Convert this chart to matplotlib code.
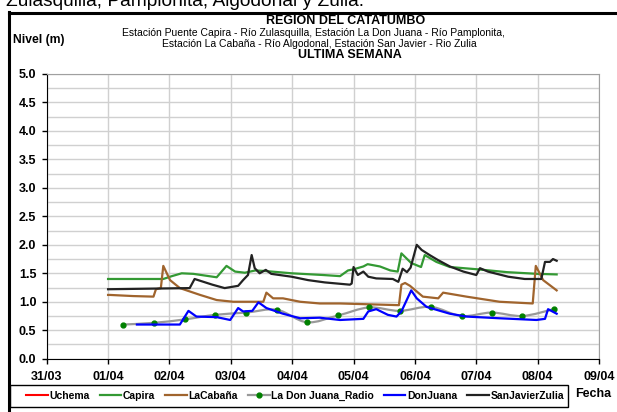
import matplotlib
matplotlib.use('Agg')
import numpy as np
from matplotlib import pyplot as plt
from matplotlib.lines import Line2D
from matplotlib.path import Path
from matplotlib.patches import PathPatch, Rectangle

plt.rcParams['font.family'] = ['Liberation Sans', 'DejaVu Sans']

# time axis: days after 31/03 00:00
date_labels = ["31/03", "01/04", "02/04", "03/04", "04/04", "05/04",
               "06/04", "07/04", "08/04", "09/04"]

capira_t = [1.00, 1.90, 2.04, 2.20, 2.39, 2.77, 2.93, 3.07, 3.23, 3.40, 3.56,
            3.99, 4.50, 4.78, 4.91, 5.00, 5.16, 5.23, 5.43, 5.60, 5.72, 5.78,
            5.94, 6.10, 6.16, 6.35, 6.57, 7.02, 7.50, 8.00, 8.31]
capira_v = [1.40, 1.40, 1.45, 1.50, 1.49, 1.43, 1.63, 1.53, 1.51, 1.55, 1.54,
            1.50, 1.47, 1.45, 1.55, 1.57, 1.62, 1.66, 1.62, 1.55, 1.53, 1.85,
            1.68, 1.61, 1.82, 1.70, 1.61, 1.57, 1.52, 1.49, 1.48]

cabana_t = [1.00, 1.03, 1.41, 1.74, 1.78, 1.86, 1.90, 2.01, 2.17, 2.50, 2.77,
            3.04, 3.53, 3.58, 3.69, 3.85, 4.13, 4.45, 4.78, 5.74, 5.78, 5.84,
            5.92, 6.13, 6.38, 6.46, 6.84, 7.38, 7.92, 7.97, 8.09, 8.31]
cabana_v = [1.12, 1.12, 1.10, 1.09, 1.22, 1.24, 1.63, 1.38, 1.24, 1.12, 1.03,
            1.00, 1.00, 1.16, 1.06, 1.06, 1.00, 0.97, 0.97, 0.94, 1.30, 1.33,
            1.28, 1.09, 1.06, 1.16, 1.09, 1.00, 0.97, 1.63, 1.38, 1.20]

radio_t = [1.25, 1.75, 2.25, 2.74, 3.25, 3.75, 4.24, 4.75, 5.25, 5.75, 6.26,
           6.76, 7.25, 7.75, 8.26]
radio_v = [0.60, 0.63, 0.69, 0.77, 0.81, 0.86, 0.64, 0.76, 0.90, 0.84, 0.91,
           0.75, 0.81, 0.75, 0.87]

donjuana_t = [1.47, 2.17, 2.31, 2.44, 2.77, 2.99, 3.12, 3.20, 3.35, 3.45, 3.58,
              3.85, 4.13, 4.45, 4.78, 5.16, 5.24, 5.37, 5.56, 5.70, 5.78, 5.94,
              6.03, 6.19, 6.57, 6.84, 7.38, 7.98, 8.12, 8.17, 8.31]
donjuana_v = [0.60, 0.60, 0.84, 0.74, 0.73, 0.68, 0.89, 0.83, 0.84, 0.99, 0.89,
              0.79, 0.71, 0.72, 0.68, 0.70, 0.83, 0.87, 0.77, 0.74, 0.83, 1.20,
              1.06, 0.91, 0.79, 0.74, 0.71, 0.68, 0.70, 0.87, 0.79]

zulia_t = [1.00, 2.33, 2.41, 2.70, 2.90, 3.12, 3.20, 3.28, 3.34, 3.39, 3.47,
           3.57, 3.66, 3.99, 4.26, 4.53, 4.94, 4.97, 5.00, 5.07, 5.16, 5.24,
           5.37, 5.64, 5.73, 5.80, 5.87, 5.93, 6.03, 6.11, 6.24, 6.38, 6.57,
           6.79, 7.00, 7.06, 7.19, 7.52, 7.79, 8.06, 8.12, 8.20, 8.25, 8.31]
zulia_v = [1.22, 1.24, 1.40, 1.30, 1.24, 1.28, 1.38, 1.47, 1.82, 1.59, 1.50,
           1.56, 1.49, 1.44, 1.38, 1.34, 1.30, 1.32, 1.61, 1.47, 1.53, 1.44,
           1.41, 1.40, 1.35, 1.58, 1.52, 1.60, 2.00, 1.91, 1.82, 1.73, 1.62,
           1.53, 1.47, 1.59, 1.53, 1.44, 1.40, 1.40, 1.70, 1.70, 1.75, 1.72]


def smooth_path(xs, ys):
    # bezier curve through the points, same look as a smoothed spreadsheet line
    p = np.column_stack([xs, ys])
    verts = [p[0]]
    codes = [Path.MOVETO]
    n = len(p)
    for i in range(n - 1):
        p0 = p[i - 1] if i > 0 else p[i]
        p3 = p[i + 2] if i + 2 < n else p[i + 1]
        c1 = p[i] + (p[i + 1] - p0) / 6.0
        c2 = p[i + 1] - (p3 - p[i]) / 6.0
        verts += [c1, c2, p[i + 1]]
        codes += [Path.CURVE4] * 3
    return Path(verts, codes)


W, H = 617, 412
fig = plt.figure(figsize=(W / 100, H / 100), dpi=100)
ax = fig.add_axes([46.7 / W, 1 - 358.7 / H, 552.3 / W, 284.7 / H])

ax.plot([], [], color='#FF0000', lw=1.5, label='Uchema')
ax.plot(capira_t, capira_v, color='#339933', lw=1.6, label='Capira')
ax.plot(cabana_t, cabana_v, color='#A0642D', lw=1.6, label='LaCabaña')
ax.add_patch(PathPatch(smooth_path(radio_t, radio_v), facecolor='none',
                       edgecolor='#999999', lw=1.6))
ax.plot(radio_t, radio_v, ls='none', marker='o', ms=3.5, color='#008000')
ax.plot([], [], color='#999999', lw=1.6, marker='o', ms=3.5, mfc='#008000',
        mec='#008000', label='La Don Juana_Radio')
ax.plot(donjuana_t, donjuana_v, color='#0000FF', lw=1.6, label='DonJuana')
ax.plot(zulia_t, zulia_v, color='#222222', lw=1.6, label='SanJavierZulia')

ax.set_xlim(0, 9)
ax.set_ylim(0, 5)
ax.set_xticks(np.arange(10))
ax.set_xticklabels(date_labels)
ax.set_yticks(np.arange(0, 5.01, 0.5))
ax.set_yticks(np.arange(0, 5.01, 0.25), minor=True)
ax.set_yticklabels(['%.1f' % v for v in np.arange(0, 5.01, 0.5)])
for lab in ax.get_xticklabels() + ax.get_yticklabels():
    lab.set_fontweight('bold')
    lab.set_fontsize(9)
ax.tick_params(axis='both', which='major', length=3.5, width=1, color='black')
ax.tick_params(axis='y', which='major', pad=4)
ax.tick_params(axis='x', which='major', pad=5)
ax.tick_params(axis='y', which='minor', length=0)
ax.grid(True, which='both', axis='y', color='#d0d0d0', lw=1)
ax.grid(True, which='major', axis='x', color='#d0d0d0', lw=1)
ax.set_axisbelow(True)
ax.spines['left'].set_color('black')
ax.spines['bottom'].set_color('black')
ax.spines['top'].set_color('#a0a0a0')
ax.spines['right'].set_color('#a0a0a0')

# titles
fig.text(346 / W, 1 - 21 / H, 'REGIÓN DEL CATATUMBO', ha='center', va='center',
         fontsize=9, fontweight='bold')
fig.text(313 / W, 1 - 32.5 / H,
         'Estación Puente Capira - Río Zulasquilla, Estación La Don Juana - Río Pamplonita,',
         ha='center', va='center', fontsize=7.5)
fig.text(319 / W, 1 - 44 / H,
         'Estación La Cabaña - Río Algodonal, Estación San Javier - Rio Zulia',
         ha='center', va='center', fontsize=7.5)
fig.text(350 / W, 1 - 55.5 / H, 'ULTIMA SEMANA', ha='center', va='center',
         fontsize=9, fontweight='bold')
fig.text(13 / W, 1 - 40 / H, 'Nivel (m)', ha='left', va='center', fontsize=8.7,
         fontweight='bold')
fig.text(593.5 / W, 1 - 394 / H, 'Fecha', ha='center', va='center', fontsize=9,
         fontweight='bold')

# page text above the chart frame
fig.text(6 / W, 1 - 6.5 / H, 'Zulasquilla, Pamplonita, Algodonal y Zulia.',
         ha='left', va='baseline', fontsize=13.8)

# chart frame
fig.add_artist(Line2D([8.5 / W, 8.5 / W], [0, 1 - 12 / H], color='black', lw=2.2,
                      transform=fig.transFigure))
fig.add_artist(Line2D([8.5 / W, 1], [1 - 12.5 / H, 1 - 12.5 / H], color='black',
                      lw=2.2, transform=fig.transFigure))

# legend box and entries
fig.add_artist(Rectangle((10 / W, 1 - 407 / H), 558 / W, 22 / H, facecolor='white',
                         edgecolor='black', lw=1, transform=fig.transFigure))
leg = fig.legend(loc='center left', bbox_to_anchor=(26 / W, 1 - 396 / H, 538 / W, 0),
                 mode='expand', ncol=6, frameon=False,
                 prop={'size': 7.5, 'weight': 'bold'}, handlelength=2.1,
                 handletextpad=0.15, columnspacing=0.6, borderpad=0, borderaxespad=0)

fig.savefig('out.png', dpi=100)
